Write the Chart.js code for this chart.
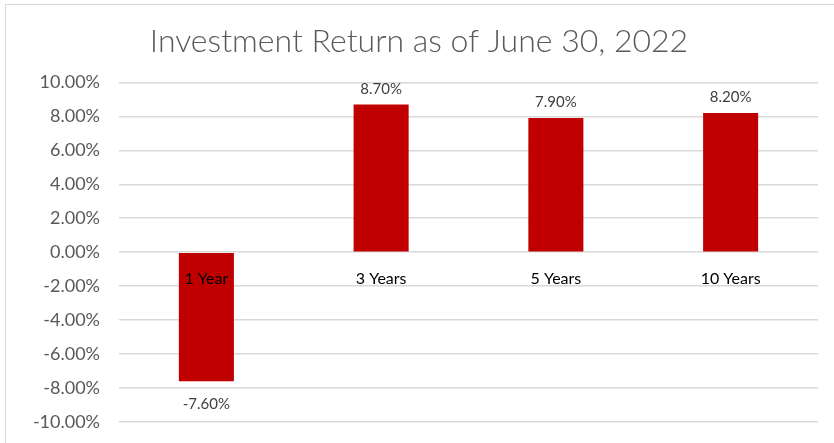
<!DOCTYPE html>
<html>
<head>
<meta charset="utf-8">
<script src="https://cdn.jsdelivr.net/npm/chart.js@4"></script>
<style>
  html, body { margin: 0; padding: 0; background: #fff; overflow: hidden; }
  #frame { position: absolute; left: 5px; top: 4px; width: 1000px; height: 1000px; border: 1px solid #d9d9d9; }
  #wrap { position: absolute; left: 0; top: 0; width: 834px; height: 443px; }
</style>
</head>
<body>
<div id="frame"></div>
<div id="wrap"><canvas id="chart"></canvas></div>
<script>
const categories = ['1 Year', '3 Years', '5 Years', '10 Years'];
const returns = [-7.6, 8.7, 7.9, 8.2];
const yMin = -10, yMax = 10, yStep = 2;

// value labels above / below each bar
const barLabels = {
  id: 'barLabels',
  afterDatasetsDraw(chart) {
    const ctx = chart.ctx;
    const meta = chart.getDatasetMeta(0);
    ctx.save();
    ctx.font = '15px Lato';
    ctx.fillStyle = '#404040';
    ctx.textAlign = 'center';
    meta.data.forEach((bar, i) => {
      const v = returns[i];
      const txt = v.toFixed(2) + '%';
      if (v >= 0) {
        ctx.textBaseline = 'bottom';
        ctx.fillText(txt, bar.x, bar.y - 8);
      } else {
        ctx.textBaseline = 'top';
        ctx.fillText(txt, bar.x, bar.y + 15);
      }
    });
    ctx.restore();
  }
};

new Chart(document.getElementById('chart'), {
  type: 'bar',
  data: {
    labels: categories,
    datasets: [{
      data: returns,
      backgroundColor: '#C00000',
      barPercentage: 0.315,
      categoryPercentage: 1
    }]
  },
  options: {
    responsive: true,
    maintainAspectRatio: false,
    animation: false,
    layout: { padding: { left: 20, right: 16, bottom: 21, top: 0 } },
    plugins: {
      legend: { display: false },
      tooltip: { enabled: false },
      title: {
        display: true,
        text: 'Investment Return as of June 30, 2022',
        color: '#595959',
        font: { family: 'Lato', size: 32, weight: '300' },
        padding: { top: 22, bottom: 22 }
      }
    },
    scales: {
      x: {
        position: { y: 0 },
        afterFit: scale => { scale.height = 0; },
        grid: { display: false, drawTicks: false },
        border: { display: false },
        ticks: { z: 1, color: '#000', font: { family: 'Lato', size: 16 }, padding: 17 }
      },
      y: {
        min: yMin,
        max: yMax,
        afterFit: scale => { scale.width = 99; },
        grid: { color: '#d9d9d9', lineWidth: 1.5, drawTicks: true, tickLength: 19, tickColor: 'rgba(0,0,0,0)' },
        border: { display: false },
        ticks: {
          stepSize: yStep,
          color: '#595959',
          font: { family: 'Lato', size: 18 },
          padding: 0,
          callback: v => v.toFixed(2) + '%'
        }
      }
    }
  },
  plugins: [barLabels]
});
</script>
</body>
</html>
